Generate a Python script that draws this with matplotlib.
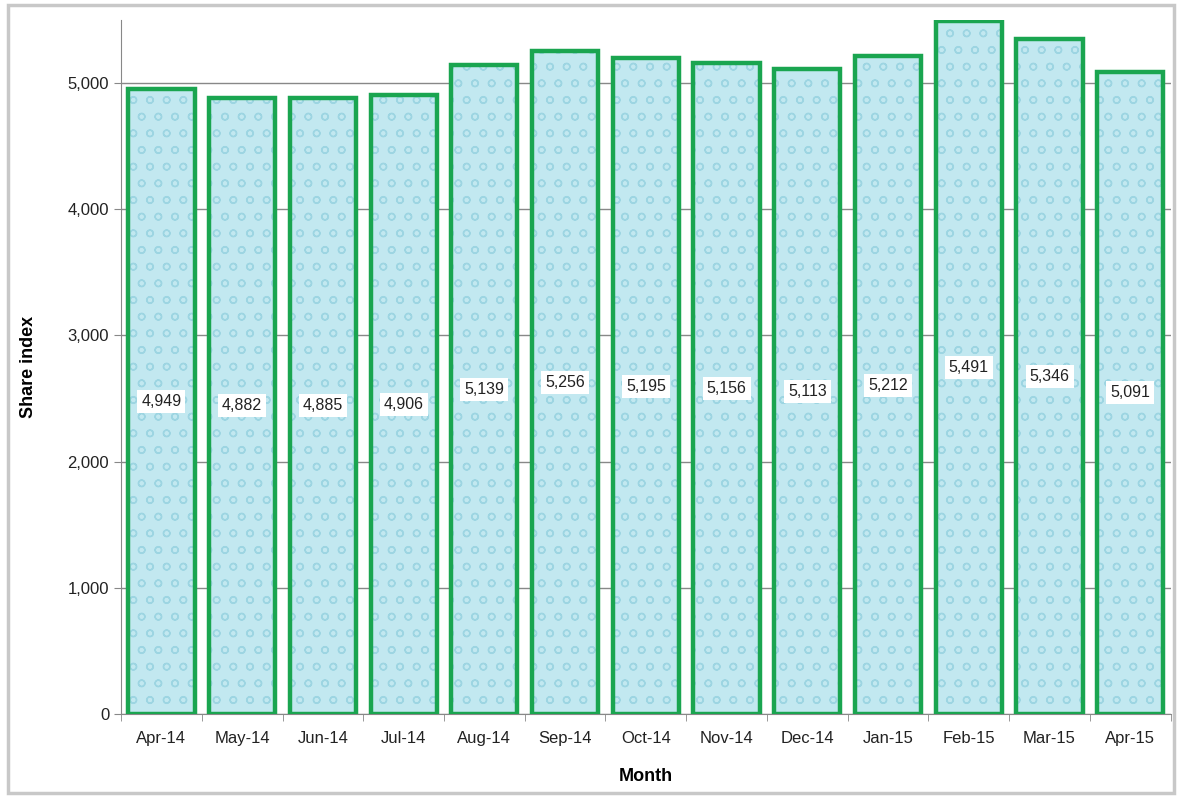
import matplotlib
matplotlib.use("Agg")
import matplotlib.pyplot as plt
from matplotlib.ticker import FuncFormatter
from matplotlib.patches import Rectangle

plt.rcParams['font.family'] = ['Liberation Sans Narrow', 'Liberation Sans', 'DejaVu Sans']
plt.rcParams['hatch.linewidth'] = 1.0

# monthly share index
months = ['Apr-14', 'May-14', 'Jun-14', 'Jul-14', 'Aug-14', 'Sep-14', 'Oct-14',
          'Nov-14', 'Dec-14', 'Jan-15', 'Feb-15', 'Mar-15', 'Apr-15']
values = [4949, 4882, 4885, 4906, 5139, 5256, 5195, 5156, 5113, 5212, 5491, 5346, 5091]
yticks = [0, 1000, 2000, 3000, 4000, 5000]

fig = plt.figure(figsize=(11.82, 7.96), dpi=100)
ax = fig.add_axes([0.1024, 0.103, 0.888, 0.872])

# grey frame round the whole chart
fig.patches.append(Rectangle((0.007, 0.004), 0.986, 0.99, transform=fig.transFigure,
                             fill=False, edgecolor='#c8c8c8', linewidth=2.5))

x = range(len(months))
# fill with a light drop-like texture, then the green outline on top
ax.bar(x, values, width=0.82, color='#c2e8f0', edgecolor='#9dd5e2',
       linewidth=0, hatch='o', zorder=3)
ax.bar(x, values, width=0.82, fill=False, edgecolor='#1aa550',
       linewidth=3.2, zorder=3.5)

# value labels in white boxes at middle of each bar
for xi, v in zip(x, values):
    ax.text(xi, v / 2, f'{v:,}', ha='center', va='center', fontsize=11.5,
            color='#222222', zorder=4,
            bbox=dict(boxstyle='square,pad=0.25', facecolor='white', edgecolor='none'))

ax.set_xlim(-0.5, len(months) - 0.5)
ax.set_ylim(0, 5500)
ax.set_yticks(yticks)
ax.yaxis.set_major_formatter(FuncFormatter(lambda v, p: f'{int(v):,}'))
ax.set_xticks(list(x))
ax.set_xticklabels(months)
ax.tick_params(axis='both', labelsize=12, colors='#222222', length=5, color='#888888')
ax.tick_params(axis='x', pad=12)
ax.set_xticks([i - 0.5 for i in range(len(months) + 1)], minor=True)
ax.tick_params(axis='x', which='minor', length=5, color='#888888')
ax.tick_params(axis='x', which='major', length=0)

ax.grid(axis='y', color='#888888', linewidth=1, zorder=0)
for s in ['top', 'right']:
    ax.spines[s].set_visible(False)
ax.spines['left'].set_color('#888888')
ax.spines['bottom'].set_color('#888888')

ax.set_ylabel('Share index', fontsize=13, fontweight='bold', labelpad=22)
ax.set_xlabel('Month', fontsize=13, fontweight='bold', labelpad=16)

plt.savefig('out.png', dpi=100)
